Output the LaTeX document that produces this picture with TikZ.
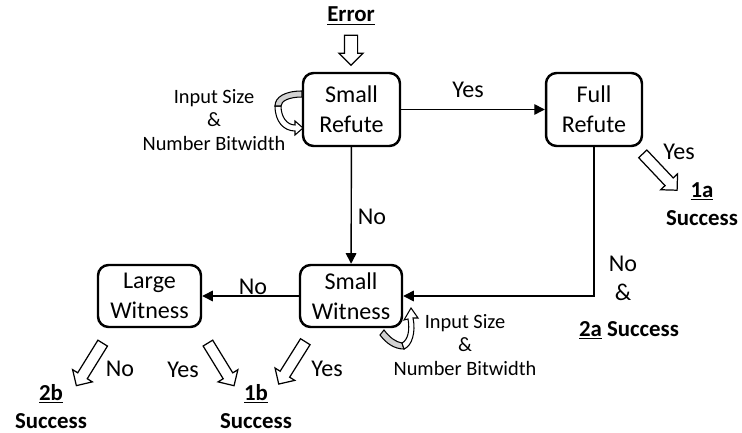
\documentclass[tikz,border=0pt]{standalone}
\usepackage{fontspec}
\setmainfont{Carlito}
\usetikzlibrary{shapes.arrows,arrows.meta}

\begin{document}
\begin{tikzpicture}[x=0.02cm, y=-0.02cm, font=\fontsize{13.7}{17}\selectfont]
      % Estilos
      \tikzstyle{caja}=[draw, line width=1.4pt, rounded corners=6pt, minimum height=1.46cm, align=center, inner sep=0pt]
      \tikzstyle{flecha}=[-{Triangle[length=6pt,width=6pt]}, line width=0.8pt]
      \tikzstyle{hueca}=[single arrow, draw, fill=white, line width=0.7pt, inner xsep=0pt, inner ysep=0.1cm, minimum width=0pt, single arrow head extend=0.12cm, single arrow head indent=0pt, minimum height=1cm, allow upside down]
      \tikzstyle{nota}=[font=\fontsize{11.6}{13.6}\selectfont, align=center]
      \tikzstyle{exito}=[font=\bfseries\fontsize{13}{15.5}\selectfont, anchor=base]

      \useasboundingbox (0,0) rectangle (742,432);

      % Cajas
      \node[caja, minimum width=1.94cm] (smallrefute) at (351.5,109.5) {Small\\Refute};
      \node[caja, minimum width=1.92cm] (fullrefute) at (594,109.5) {Full\\Refute};
      \node[caja, minimum width=2.04cm, minimum height=1.24cm] (smallwitness) at (351,296) {Small\\Witness};
      \node[caja, minimum width=2.06cm, minimum height=1.24cm] (largewitness) at (149.5,296) {Large\\Witness};

      % Textos de resultado
      \node[exito] (error) at (351,22) {\underline{Error}};
      \node[exito] (uno-a) at (702,197) {\underline{1a}};
      \node[exito] (exito-a) at (702,225) {Success};
      \node[exito] (dos-a) at (629,336) {\underline{2a} Success};
      \node[exito] (uno-b) at (256,400) {\underline{1b}};
      \node[exito] (exito-b) at (256,428) {Success};
      \node[exito] (dos-b) at (51,400) {\underline{2b}};
      \node[exito] (exito-c) at (51,428) {Success};

      % Conexiones
      \draw[flecha] (smallrefute) -- (fullrefute);
      \draw[flecha] (smallrefute) -- (smallwitness);
      \draw[flecha] (smallwitness) -- (largewitness);
      \draw[flecha] (fullrefute.south) |- (smallwitness.east);

      % Flechas huecas
      \coordinate (e1) at (351,32);
      \coordinate (e2) at (351,62);
      \coordinate (f1) at (641,152);
      \coordinate (f2) at (675,188);
      \coordinate (l1) at (104,341);
      \coordinate (l2) at (78,383);
      \coordinate (m1) at (206,340);
      \coordinate (m2) at (233,384);
      \coordinate (s1) at (307,339);
      \coordinate (s2) at (280,382);
      \path (e1) -- (e2) node[hueca, midway, sloped, minimum height=0.6cm, inner ysep=0.12cm, single arrow head extend=0.11cm] {};
      \path (f1) -- (f2) node[hueca, midway, sloped] {};
      \path (l1) -- (l2) node[hueca, midway, sloped] {};
      \path (m1) -- (m2) node[hueca, midway, sloped] {};
      \path (s1) -- (s2) node[hueca, midway, sloped] {};

      % Bucles de tamaño
      \filldraw[fill=white, line width=0.6pt] (275,106) .. controls (275,122) and (284,131) .. (295,131) -- (295,135) -- (303,128) -- (295,121) -- (295,125) .. controls (287,125) and (281,117) .. (281,106) -- cycle;
      \filldraw[fill=gray!35, line width=0.6pt] (302,91) .. controls (285,91) and (275,97) .. (275,106) -- (281,106) .. controls (281,101) and (289,97) .. (302,97) -- cycle;
      \filldraw[fill=gray!35, line width=0.6pt] (384,330) .. controls (390,338) and (396,342) .. (402,343) -- (404,349) .. controls (394,349) and (386,343) .. (380,335) -- cycle;
      \filldraw[fill=white, line width=0.6pt] (402,343) .. controls (408,340) and (410,330) .. (408,319) -- (404,320) -- (411,308) -- (418,318) -- (413,318) .. controls (416,332) and (412,346) .. (404,349) -- cycle;

      % Etiquetas
      \node (yes-a) at (468,90) {Yes};
      \node (no-a) at (372,217) {No};
      \node (no-b) at (253,287) {No};
      \node (no-c) at (623,264) {No};
      \node (y-c) at (623,292) {\&};
      \node (yes-b) at (679,152) {Yes};
      \node (no-d) at (120,369) {No};
      \node (yes-c) at (183,370) {Yes};
      \node (yes-d) at (327,369) {Yes};
      \node[nota] (nota-a) at (214,120) {Input Size\\\&\\Number Bitwidth};
      \node[nota] (nota-b) at (465,345) {Input Size\\\&\\Number Bitwidth};
    \end{tikzpicture}
\end{document}
